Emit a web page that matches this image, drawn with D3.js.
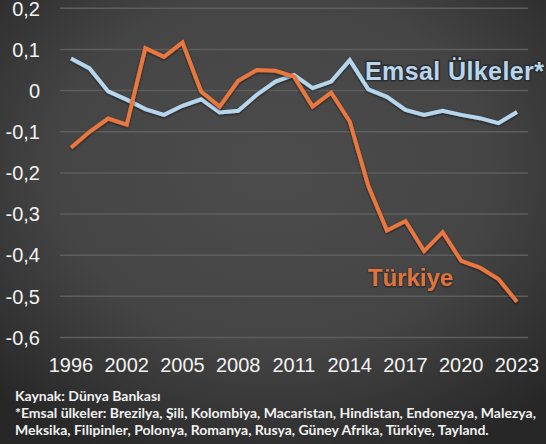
<!DOCTYPE html>
<html>
<head>
<meta charset="utf-8">
<script src="https://cdn.jsdelivr.net/npm/d3@7"></script>
<style>
  body { margin: 0; background: #333; }
  svg { display: block; }
</style>
</head>
<body>
<script>
var width = 546;
var height = 444;

// WGI years (1997, 1999, 2001 missing in the source)
var years = ["1996", "1998", "2000", "2002", "2003", "2004", "2005", "2006", "2007", "2008",
  "2009", "2010", "2011", "2012", "2013", "2014", "2015", "2016", "2017", "2018",
  "2019", "2020", "2021", "2022", "2023"];

var turkiye = [-0.139, -0.100, -0.068, -0.083, 0.103, 0.082, 0.117, -0.002, -0.039, 0.024,
  0.050, 0.048, 0.034, -0.039, -0.005, -0.075, -0.232, -0.340, -0.317, -0.390,
  -0.344, -0.414, -0.430, -0.458, -0.513];

var emsal = [0.078, 0.054, -0.002, -0.022, -0.045, -0.059, -0.037, -0.021, -0.053, -0.049,
  -0.010, 0.022, 0.038, 0.006, 0.022, 0.074, 0.003, -0.015, -0.047, -0.059,
  -0.049, -0.059, -0.067, -0.079, -0.052];

var xTickLabels = ["1996", "2002", "2005", "2008", "2011", "2014", "2017", "2020", "2023"];
var yTicks = [0.2, 0.1, 0, -0.1, -0.2, -0.3, -0.4, -0.5, -0.6];

var footnotes = [
  "Kaynak: Dünya Bankası",
  "*Emsal ülkeler: Brezilya, Şili, Kolombiya, Macaristan, Hindistan, Endonezya, Malezya,",
  "Meksika, Filipinler, Polonya, Romanya, Rusya, Güney Afrika, Türkiye, Tayland."
];

var svg = d3.select("body").append("svg")
  .attr("width", width)
  .attr("height", height);

var defs = svg.append("defs");
var bg = defs.append("radialGradient")
  .attr("id", "bg")
  .attr("cx", "50%").attr("cy", "38%").attr("r", "72%");
bg.append("stop").attr("offset", "0%").attr("stop-color", "#4d4c4c");
bg.append("stop").attr("offset", "55%").attr("stop-color", "#454545");
bg.append("stop").attr("offset", "100%").attr("stop-color", "#272727");

var shadow = defs.append("filter").attr("id", "shadow")
  .attr("x", "-10%").attr("y", "-10%").attr("width", "120%").attr("height", "120%");
shadow.append("feDropShadow")
  .attr("dx", 0).attr("dy", 1).attr("stdDeviation", 1.2)
  .attr("flood-color", "#111").attr("flood-opacity", 0.7);

svg.append("rect")
  .attr("width", width)
  .attr("height", height)
  .attr("fill", "url(#bg)");

var x = d3.scalePoint()
  .domain(years)
  .range([71, 517]);

var y = d3.scaleLinear()
  .domain([-0.6, 0.2])
  .range([337.5, 8.3]);

// grid lines
svg.append("g")
  .selectAll("line")
  .data(yTicks)
  .enter()
  .append("line")
  .attr("x1", 60)
  .attr("x2", 528)
  .attr("y1", function(d) { return y(d); })
  .attr("y2", function(d) { return y(d); })
  .attr("stroke", "#5e5e5e")
  .attr("stroke-width", 1.5);

// y axis labels
svg.append("g")
  .selectAll("text")
  .data(yTicks)
  .enter()
  .append("text")
  .attr("x", 40)
  .attr("y", function(d) { return y(d); })
  .attr("dy", "0.36em")
  .attr("text-anchor", "end")
  .attr("fill", "#f2f2f2")
  .style("font-family", "'Liberation Sans', Arial, sans-serif")
  .style("font-size", "20px")
  .text(function(d) { return d === 0 ? "0" : d.toFixed(1).replace(".", ","); });

// x axis labels
svg.append("g")
  .selectAll("text")
  .data(xTickLabels)
  .enter()
  .append("text")
  .attr("x", function(d) { return x(d); })
  .attr("y", 372)
  .attr("text-anchor", "middle")
  .attr("fill", "#f2f2f2")
  .style("font-family", "'Liberation Sans', Arial, sans-serif")
  .style("font-size", "20px")
  .text(function(d) { return d; });

var line = d3.line()
  .x(function(d, i) { return x(years[i]); })
  .y(function(d) { return y(d); });

svg.append("path")
  .datum(emsal)
  .attr("d", line)
  .attr("fill", "none")
  .attr("stroke", "#b6d6ee")
  .attr("stroke-width", 4)
  .attr("stroke-linejoin", "miter")
  .attr("filter", "url(#shadow)");

svg.append("path")
  .datum(turkiye)
  .attr("d", line)
  .attr("fill", "none")
  .attr("stroke", "#e8773f")
  .attr("stroke-width", 4)
  .attr("stroke-linejoin", "miter")
  .attr("filter", "url(#shadow)");

// series labels
svg.append("text")
  .attr("x", 365)
  .attr("y", 80)
  .attr("fill", "#b6d6ee")
  .attr("stroke", "#2e2e2e")
  .attr("stroke-width", 3)
  .attr("paint-order", "stroke")
  .style("font-family", "'Liberation Sans', Arial, sans-serif")
  .style("font-weight", "bold")
  .style("font-size", "25px")
  .style("letter-spacing", "0.4px")
  .text("Emsal Ülkeler*");

svg.append("text")
  .attr("x", 368)
  .attr("y", 286)
  .attr("fill", "#e0733d")
  .attr("filter", "url(#shadow)")
  .style("font-family", "'Liberation Sans', Arial, sans-serif")
  .style("font-weight", "bold")
  .style("font-size", "24px")
  .text("Türkiye");

// footnotes
svg.append("g")
  .selectAll("text")
  .data(footnotes)
  .enter()
  .append("text")
  .attr("x", 15)
  .attr("y", function(d, i) { return 401 + i * 17; })
  .attr("fill", "#f0f0f0")
  .style("font-family", "Lato, 'Open Sans', sans-serif")
  .style("font-weight", "bold")
  .style("font-size", "14px")
  .text(function(d) { return d; });
</script>
</body>
</html>
